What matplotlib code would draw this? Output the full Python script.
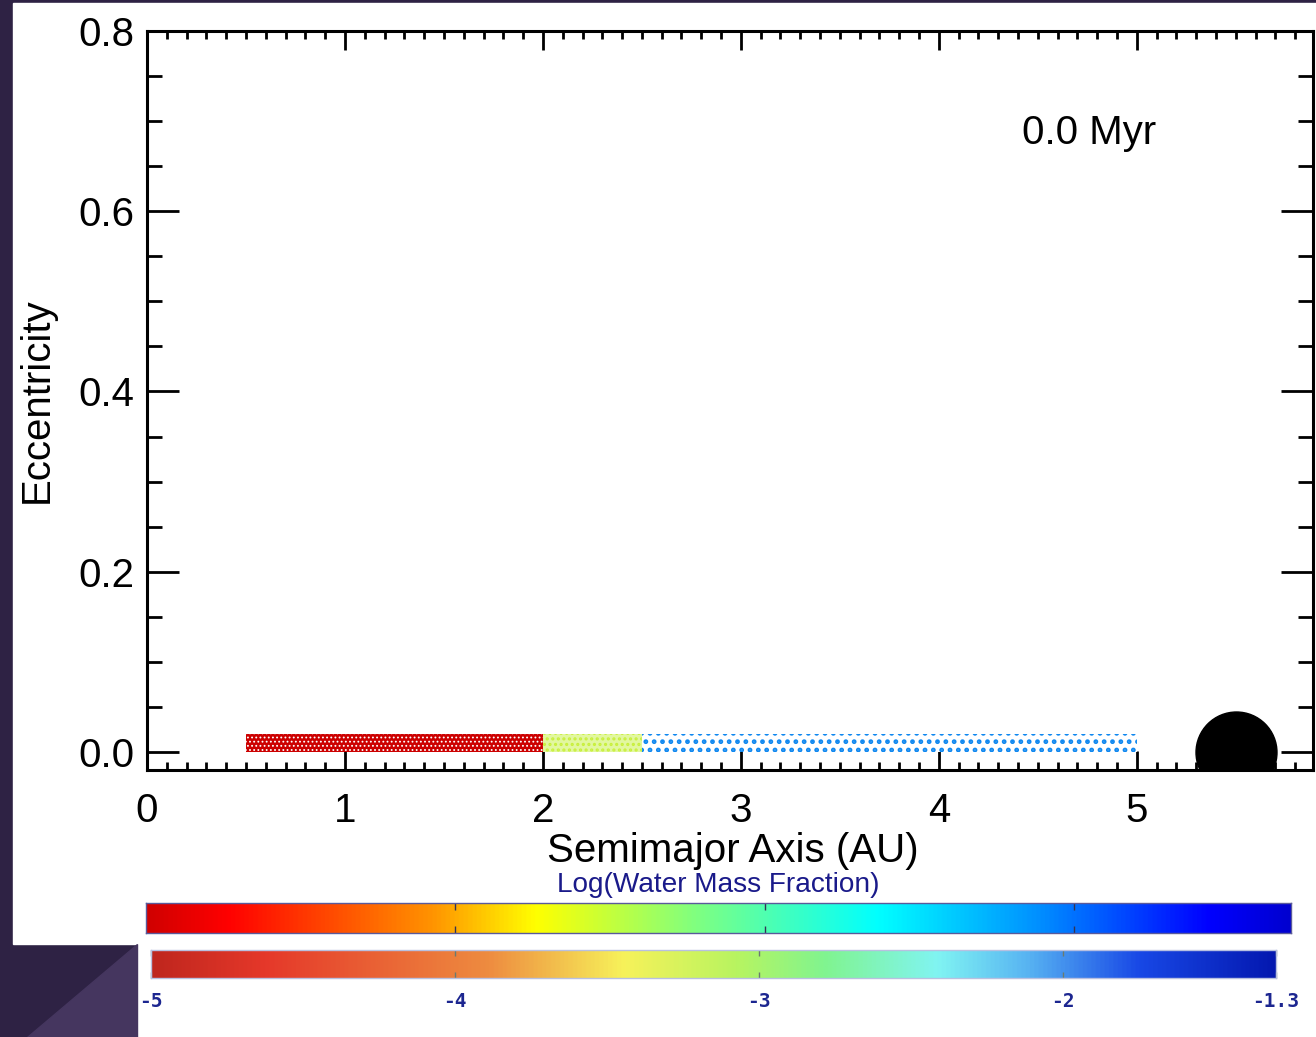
import numpy as np
import matplotlib
matplotlib.use('Agg')
import matplotlib.pyplot as plt
from matplotlib.patches import Rectangle, Polygon
from matplotlib.colors import LinearSegmentedColormap
from matplotlib.ticker import MultipleLocator

plt.rcParams['font.family'] = ['Liberation Sans', 'DejaVu Sans']

# particle belts (semimajor axis range, max eccentricity, colour)
belt_a_min = [0.5, 2.0, 2.5]
belt_a_max = [2.0, 2.5, 5.0]
belt_e_max = [0.02, 0.02, 0.02]
belt_face = ['#cc0000', '#e2f7a0', 'white']
belt_hatch = ['....', '...', '..']
belt_hatch_color = ['white', '#c8f03c', '#1088f0']
belt_hatch_lw = [0.8, 1.5, 2.2]

# Jupiter
jup_a = 5.5
jup_e = 0.0

time_label = '0.0 Myr'

# colour bar
cbar_min = -5.0
cbar_max = -1.3
cbar_ticks = [-5, -4, -3, -2, -1.3]
cbar_ticklabels = ['-5', '-4', '-3', '-2', '-1.3']

# top colour bar palette
top_pos = [0.0, 0.07, 0.25, 0.34, 0.48, 0.64, 0.78, 0.93, 1.0]
top_col = ['#d00000', '#ff0000', '#ff9400', '#ffff00', '#80ff80', '#00ffff',
           '#0090ff', '#0000ff', '#0000d0']

# second (pasted) colour bar palette
pal_pos = [0.0, 0.1, 0.3, 0.42, 0.52, 0.6, 0.7, 0.78, 0.88, 1.0]
pal_col = ['#bf261e', '#e5382a', '#ee8c40', '#f7f25a', '#b8f460', '#80f490',
           '#80f4f2', '#58b4f2', '#1848e6', '#0418b0']

W, H = 1316, 1037
fig = plt.figure(figsize=(W / 100, H / 100), dpi=100, facecolor='#2e2244')


def fx(px):
    return px / W


def fy(py):
    return 1 - py / H


# slide background pieces
fig.patches.append(Rectangle((fx(13), fy(944)), fx(W - 13), fy(3) - fy(944),
                             transform=fig.transFigure, color='white', zorder=-10))
fig.patches.append(Rectangle((fx(137), 0), fx(W - 137), fy(944),
                             transform=fig.transFigure, color='white', zorder=-10))
fig.patches.append(Polygon([(fx(137), fy(944)), (fx(137), 0), (fx(27), 0)],
                           closed=True, transform=fig.transFigure,
                           color='#45365f', zorder=-10))

# main axes
ax = fig.add_axes([fx(147), fy(770), fx(1313) - fx(147), fy(31) - fy(770)])
ax.set_xlim(0, 5.89)
ax.set_ylim(-0.02, 0.8)

for a0, a1, em, fc, hc, hp, hlw in zip(belt_a_min, belt_a_max, belt_e_max,
                                       belt_face, belt_hatch_color, belt_hatch,
                                       belt_hatch_lw):
    plt.rcParams['hatch.linewidth'] = hlw
    ax.add_patch(Rectangle((a0, 0.0), a1 - a0, em, facecolor=fc,
                           edgecolor=hc, hatch=hp, linewidth=0, zorder=2))

ax.scatter([jup_a], [jup_e], s=3400, color='black', zorder=3, clip_on=True)

ax.text(4.42, 0.687, time_label, fontsize=29, ha='left', va='center')

ax.xaxis.set_major_locator(MultipleLocator(1))
ax.xaxis.set_minor_locator(MultipleLocator(0.1))
ax.yaxis.set_major_locator(MultipleLocator(0.2))
ax.yaxis.set_minor_locator(MultipleLocator(0.05))
ax.yaxis.set_major_formatter(lambda v, p: f'{v:.1f}')

ax.tick_params(axis='x', which='major', direction='in', top=True, length=14,
               width=2, labelsize=29, pad=16)
ax.tick_params(axis='x', which='minor', direction='in', top=True, length=6,
               width=2)
ax.tick_params(axis='y', which='major', direction='in', right=True, length=23,
               width=2, labelsize=29, pad=9)
ax.tick_params(axis='y', which='minor', direction='in', right=True, length=11,
               width=2)
for s in ax.spines.values():
    s.set_linewidth(2.2)

ax.set_xlabel('Semimajor Axis (AU)', fontsize=29)
ax.xaxis.set_label_coords(0.502, -0.084)
ax.set_ylabel('Eccentricity', fontsize=29)
ax.yaxis.set_label_coords(-0.078, 0.5)

fig.text(fx(718), fy(885), 'Log(Water Mass Fraction)', fontsize=20.2,
         color='#1a1a8a', ha='center', va='center')

grad = np.linspace(cbar_min, cbar_max, 512).reshape(1, -1)

# top colour bar
top = LinearSegmentedColormap.from_list('top', list(zip(top_pos, top_col)))
cax1 = fig.add_axes([fx(146), fy(933), fx(1291) - fx(146), fy(903) - fy(933)])
cax1.imshow(grad, aspect='auto', cmap=top, extent=[cbar_min, cbar_max, 0, 1])
cax1.set_xlim(cbar_min, cbar_max)
cax1.set_xticks([-4, -3, -2])
cax1.set_yticks([])
cax1.tick_params(axis='x', direction='in', top=True, length=5, width=1,
                 color='#333355', labelbottom=False)
for s in cax1.spines.values():
    s.set_color('#5a5a9a')
    s.set_linewidth(1)

# lower colour bar
pal = LinearSegmentedColormap.from_list('pal', list(zip(pal_pos, pal_col)))
cax2 = fig.add_axes([fx(151), fy(978), fx(1276) - fx(151), fy(950) - fy(978)])
cax2.imshow(grad, aspect='auto', cmap=pal, extent=[cbar_min, cbar_max, 0, 1])
cax2.set_xlim(cbar_min, cbar_max)
cax2.set_xticks(cbar_ticks)
cax2.set_xticklabels(cbar_ticklabels, family='DejaVu Sans Mono',
                     fontweight='bold', fontsize=14, color='#1c2690')
cax2.set_yticks([])
cax2.tick_params(axis='x', direction='in', top=True, length=4, width=1,
                 color='#6a7a70', pad=10)
for s in cax2.spines.values():
    s.set_color('#b8c0e0')
    s.set_linewidth(1)

fig.savefig('out.png', dpi=100, facecolor=fig.get_facecolor())
